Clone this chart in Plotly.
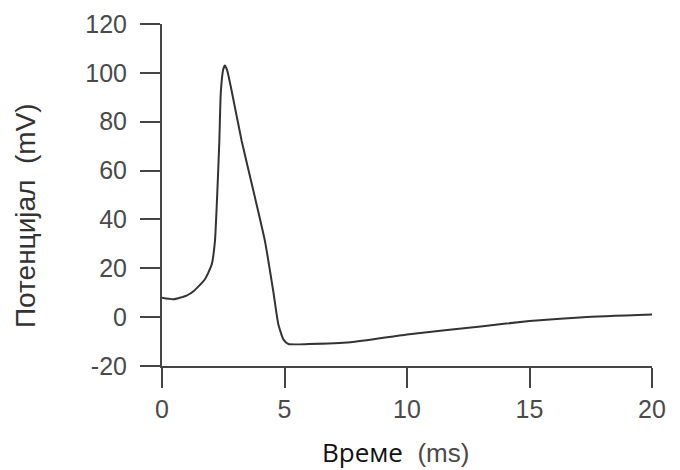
import plotly.graph_objects as go

time_ms = [0, 0.45, 1.0, 1.3, 1.75, 2.03, 2.16, 2.26, 2.34, 2.4, 2.5, 2.57, 2.66, 2.84,
           3.25, 3.73, 4.2, 4.54, 4.75, 4.96, 5.16, 6.0, 7.7, 10.0, 13.1, 15.0, 17.2, 20.0]
potential_mv = [7.9, 7.3, 8.8, 10.7, 15.5, 21.6, 31, 51.7, 72, 92, 101.5, 103, 101, 92.8,
                72.2, 51.7, 31.2, 10.7, -3, -9.2, -11, -11, -10.3, -7.1, -3.7, -1.6, 0, 1.1]

x_ticks = [0, 5, 10, 15, 20]
y_ticks = [-20, 0, 20, 40, 60, 80, 100, 120]
y_tick_labels = ["-20", "0", "20", "40", "60", "80", "100", "120"]

fig = go.Figure()
fig.add_trace(go.Scatter(
    x=time_ms, y=potential_mv, mode="lines",
    line=dict(color="#333333", width=2, shape="spline", smoothing=0.5),
    hoverinfo="skip", showlegend=False,
))

axis_common = dict(
    showgrid=False, zeroline=False, showline=True, linecolor="#454545", linewidth=2,
    ticks="outside", ticklen=20, tickwidth=2, tickcolor="#454545", automargin=False,
    tickfont=dict(family="Liberation Sans, Arial, sans-serif", size=25, color="#4a4a4a"),
)

fig.update_layout(
    width=672, height=462,
    margin=dict(l=154, r=28, t=16, b=104),
    paper_bgcolor="white", plot_bgcolor="white",
    xaxis=dict(range=[0, 20], tickvals=x_ticks, ticklabelstandoff=0, **axis_common),
    yaxis=dict(range=[-20, 120], tickvals=y_ticks, ticktext=y_tick_labels,
               ticklabelstandoff=8, **axis_common),
    annotations=[
        dict(text="Потенцијал  (mV)", xref="paper", yref="paper", x=-0.2796, y=0.4415,
             xanchor="center", yanchor="middle", textangle=-90, showarrow=False,
             font=dict(family="Liberation Sans, Arial, sans-serif", size=28, color="#333333")),
        dict(text="<span style='font-family:Open Sans;color:#111111'>Време</span>  "
                  "<span style='color:#4a4a4a'>(ms)</span>",
             xref="paper", yref="paper", x=0.4765, y=-0.2515,
             xanchor="center", yanchor="middle", showarrow=False,
             font=dict(family="Liberation Sans, Arial, sans-serif", size=26, color="#4a4a4a")),
    ],
)

fig.write_html("out.html")
